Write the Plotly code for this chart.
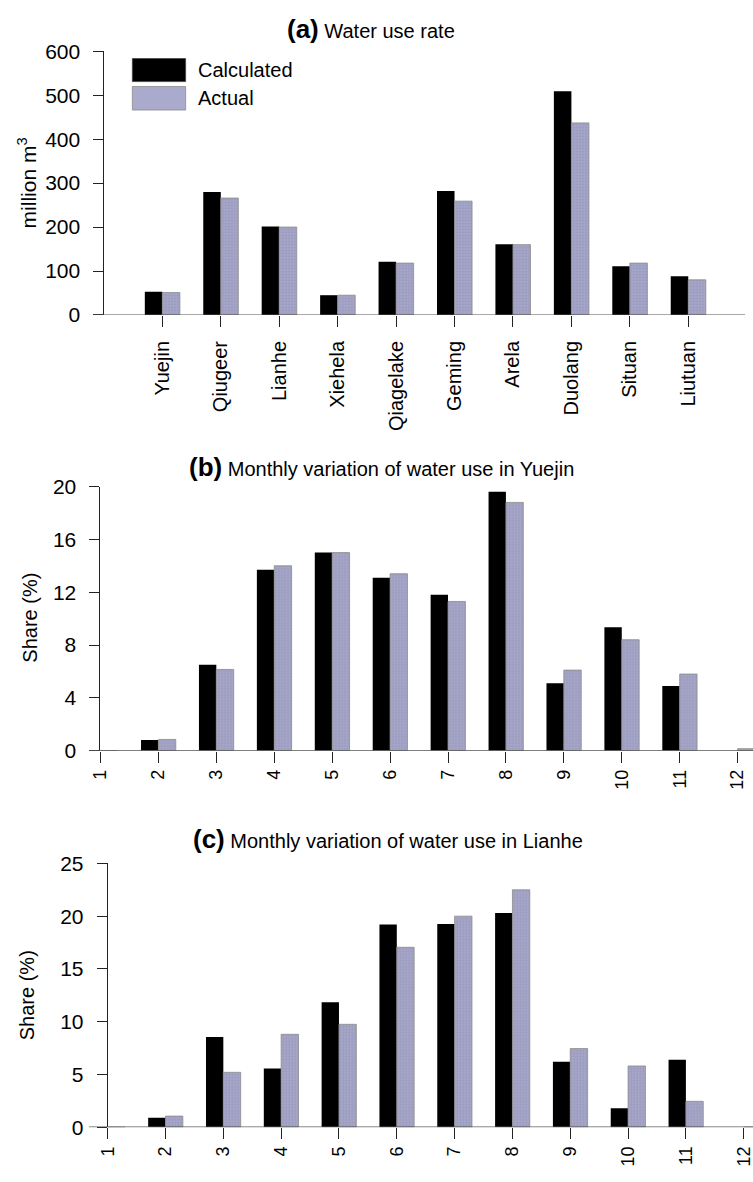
import plotly.graph_objects as go

W, H = 753, 1182

sites = ["Yuejin", "Qiugeer", "Lianhe", "Xiehela", "Qiagelake",
         "Geming", "Arela", "Duolang", "Situan", "Liutuan"]
calc_a = [53, 280, 201, 45, 121, 282, 161, 509, 111, 88]
act_a = [51, 266, 200, 45, 118, 259, 160, 437, 118, 80]

months = [1, 2, 3, 4, 5, 6, 7, 8, 9, 10, 11, 12]
calc_b = [0, 0.8, 6.5, 13.7, 15.0, 13.1, 11.8, 19.6, 5.1, 9.35, 4.9, 0]
act_b = [0, 0.85, 6.15, 14.0, 15.0, 13.4, 11.3, 18.8, 6.1, 8.4, 5.8, 0.15]
calc_c = [0, 0.9, 8.55, 5.55, 11.85, 19.2, 19.25, 20.3, 6.2, 1.8, 6.4, 0]
act_c = [0, 1.05, 5.2, 8.8, 9.75, 17.05, 20.0, 22.5, 7.45, 5.8, 2.45, 0]

FONT = "Arial, Liberation Sans, Helvetica, sans-serif"
AX = "#222222"
BASE = "#555555"
ACT_FILL = "#aaaacc"
ACT_DOT = "#8484aa"


def px(v):
    return v / W


def py(v):
    return 1 - v / H


fig = go.Figure()


def add_pair(x, calc, act, xa, ya):
    fig.add_trace(go.Bar(x=x, y=calc, name="Calculated", xaxis=xa, yaxis=ya,
                         offset=-0.3, width=0.3,
                         marker=dict(color="black", line=dict(width=0)),
                         showlegend=False))
    fig.add_trace(go.Bar(x=x, y=act, name="Actual", xaxis=xa, yaxis=ya,
                         offset=0.0, width=0.3,
                         marker=dict(color=ACT_FILL,
                                     pattern=dict(shape=".", fgcolor=ACT_DOT,
                                                  size=3, solidity=0.45),
                                     line=dict(color="#8a8a8a", width=0.8)),
                         showlegend=False))


add_pair(sites, calc_a, act_a, "x", "y")
add_pair(months, calc_b, act_b, "x2", "y2")
add_pair(months, calc_c, act_c, "x3", "y3")


def yax(dom_top, dom_bot, rng, dtick, anchor):
    return dict(domain=[py(dom_bot), py(dom_top)], range=rng, dtick=dtick,
                anchor=anchor,
                showgrid=False, zeroline=False, showline=True, linecolor=AX,
                linewidth=1, ticks="outside", ticklen=10, tickcolor=AX,
                tickwidth=1, ticklabelstandoff=9,
                tickfont=dict(family=FONT, size=21, color="black"),
                fixedrange=True)


def xax(dom_l, dom_r, rng, anchor, fsize, **kw):
    d = dict(domain=[px(dom_l), px(dom_r)], range=rng, anchor=anchor,
             showgrid=False, zeroline=False, showline=False,
             ticks="outside", ticklen=11, tickcolor=AX, tickwidth=1,
             tickangle=-90, ticklabeloverflow="allow",
             tickfont=dict(family=FONT, size=fsize, color="black"),
             fixedrange=True)
    d.update(kw)
    return d


sp_a = 59.22
fig.update_layout(
    xaxis=xax(95.7, 745, [-(154.4 - 95.7) / sp_a, 9 + (745 - 687.4) / sp_a],
              "y", 20, type="category", ticklabelstandoff=6),
    yaxis=yax(40, 309, [0, 600], 100, "x"),
    xaxis2=xax(91.7, 753, [1, 1 + (753 - 91.7) / 58.7], "y2", 18,
               tickmode="array", tickvals=months),
    yaxis2=yax(484, 753.3, [0, 20], 4, "x2"),
    xaxis3=xax(99, 753, [1, 1 + (753 - 99) / 58.6], "y3", 18,
               tickmode="array", tickvals=months),
    yaxis3=yax(868.3, 1137.3, [0, 25], 5, "x3"),
)

shapes = []
# baselines at zero
for x0, x1, yr in [(84, 745, "y"), (80, 753, "y2"), (80, 753, "y3")]:
    shapes.append(dict(type="line", xref="paper", yref=yr, x0=px(x0), x1=px(x1),
                       y0=0, y1=0, line=dict(color=BASE, width=1.2)))
# legend swatches (panel a)
shapes.append(dict(type="rect", xref="paper", yref="paper",
                   x0=px(124), x1=px(178), y0=py(71), y1=py(47.5),
                   fillcolor="black", line=dict(color="#444", width=0.8)))
shapes.append(dict(type="rect", xref="paper", yref="paper",
                   x0=px(124), x1=px(178), y0=py(100), y1=py(76),
                   fillcolor=ACT_FILL, line=dict(color="#8a8a8a", width=0.8)))

ann = []


def text(x, y, t, size=20, angle=0, xanchor="center"):
    ann.append(dict(x=px(x), y=py(y), xref="paper", yref="paper", text=t,
                    showarrow=False, textangle=angle, xanchor=xanchor,
                    yanchor="middle",
                    font=dict(family=FONT, size=size, color="black")))


def title(x, y, lab, t):
    text(x, y, "<span style='font-size:26px'><b>" + lab + "</b></span> " + t)


title(366, 17, "(a)", "Water use rate")
title(377, 464, "(b)", "Monthly variation of water use in Yuejin")
title(383, 843, "(c)", "Monthly variation of water use in Lianhe")

text(188, 59, "Calculated", xanchor="left")
text(188, 88, "Actual", xanchor="left")

text(17, 174, "million m<sup>3</sup>", size=21, angle=-90)
text(20, 618, "Share (%)", size=20, angle=-90)
text(18, 1003, "Share (%)", size=20, angle=-90)

fig.update_layout(
    width=W, height=H, margin=dict(l=0, r=0, t=0, b=0),
    paper_bgcolor="white", plot_bgcolor="white",
    barmode="overlay", showlegend=False,
    shapes=shapes, annotations=ann,
    font=dict(family=FONT, color="black"),
)

fig.write_html("out.html",
               post_script="document.body.style.margin='0';"
                           "document.body.style.padding='0';")
